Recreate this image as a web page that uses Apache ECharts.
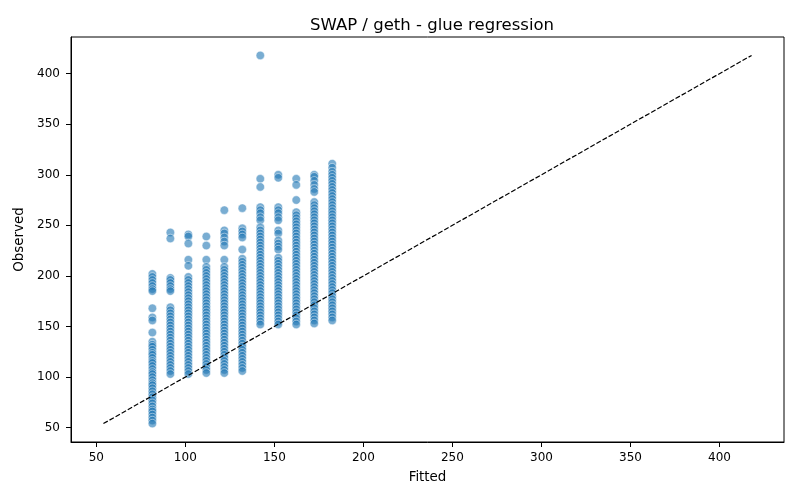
<!DOCTYPE html>
<html>
<head>
<meta charset="utf-8">
<script src="https://cdn.jsdelivr.net/npm/echarts@6/dist/echarts.min.js"></script>
<style>
html,body{margin:0;padding:0;background:#fff;}
#chart{width:800px;height:500px;}
</style>
</head>
<body>
<div id="chart"></div>
<script>
// Fitted value of each column (x) and observed values (y) per column
const fittedValues = [81.5, 91.6, 101.7, 111.8, 121.9, 132.0, 142.1, 152.2, 162.3, 172.4, 182.5];
const obs81  = [202,199,196,193,190,187,185,168,159,156,144,135,132,130,127,124,122,119,116,114,111,108,105,103,100,97,94,92,89,86,83,80,77,74,71,68,66,63,60,57,54];
const obs92  = [243,237,198,196,193,190,187,185,169,166,163,160,157,154,151,148,145,142,139,136,133,130,127,124,121,118,115,112,109,106,103];
const obs102 = [241,239,232,216,210,199,196,193,190,187,184,181,178,175,172,169,166,163,160,157,154,151,148,145,142,139,136,133,130,127,124,121,118,115,112,109,106,103];
const obs112 = [239,230,216,209,206,203,200,197,194,191,188,185,182,179,176,173,170,167,164,161,158,155,152,149,146,143,140,137,134,131,128,125,122,119,116,113,110,107,104];
const obs122 = [265,245,242,238,234,230,216,209,206,203,200,197,194,191,188,185,182,179,176,173,170,167,164,161,158,155,152,149,146,143,140,137,134,131,128,125,122,119,116,113,110,107,104];
const obs132 = [267,247,244,241,238,226,217,214,211,208,205,202,199,196,193,190,187,184,181,178,175,172,169,166,163,160,157,154,151,148,145,142,139,136,133,130,127,124,121,118,115,112,109,106];
const obs142 = [418,296,288,268,265,262,258,255,248,245,242,239,236,233,230,227,224,221,218,215,212,209,206,203,200,197,194,191,188,185,182,179,176,173,170,167,164,161,158,155,152];
const obs152 = [300,297,268,265,262,258,255,245,242,235,232,229,226,218,215,212,209,206,203,200,197,194,191,188,185,182,179,176,173,170,167,164,161,158,155,152];
const obs162 = [296,290,275,263,260,257,254,251,248,245,242,239,236,233,230,227,224,221,218,215,212,209,206,203,200,197,194,191,188,185,182,179,176,173,170,167,164,161,158,155,152];
const obs172 = [300,298,294,290,286,283,273,270,267,264,261,258,255,252,249,246,243,240,237,234,231,228,225,222,219,216,213,210,207,204,201,198,195,192,189,186,183,180,177,174,171,168,165,162,159,156,153];
const obs182 = [311,307,303,300,297,294,291,288,285,282,279,276,273,270,267,264,261,258,255,252,249,246,243,240,237,234,231,228,225,222,219,216,213,210,207,204,201,198,195,192,189,186,183,180,177,174,171,168,165,162,159,156];
const observedColumns = [obs81, obs92, obs102, obs112, obs122, obs132, obs142, obs152, obs162, obs172, obs182];
// identity reference line endpoints
const identityLine = [54, 418];
const tickValues = [50, 100, 150, 200, 250, 300, 350, 400];

const scatterData = [];
fittedValues.forEach((fx, i) => {
  observedColumns[i].forEach(v => scatterData.push([fx, v]));
});

const font = 'DejaVu Sans';
const chart = echarts.init(document.getElementById('chart'));
chart.setOption({
  animation: false,
  backgroundColor: '#ffffff',
  title: {
    text: 'SWAP / geth - glue regression',
    left: 305,
    top: 12,
    textStyle: {fontFamily: font, fontSize: 16.5, fontWeight: 'normal', color: '#000'}
  },
  grid: {left: 71, right: 16, top: 37, bottom: 58, show: true, borderColor: '#000', borderWidth: 1, backgroundColor: 'transparent'},
  xAxis: {
    type: 'value',
    min: 35.8, max: 436.2,
    name: 'Fitted', nameLocation: 'middle', nameGap: 29,
    nameTextStyle: {fontFamily: font, fontSize: 13.4, color: '#000'},
    axisLine: {show: true, onZero: false, lineStyle: {color: '#000', width: 1}},
    axisTick: {show: true, length: 5, lineStyle: {color: '#000'}, customValues: tickValues},
    axisLabel: {fontFamily: font, fontSize: 12, color: '#000', margin: 10, customValues: tickValues},
    splitLine: {show: false}
  },
  yAxis: {
    type: 'value',
    min: 35.8, max: 436.2,
    name: 'Observed', nameLocation: 'middle', nameGap: 42,
    nameTextStyle: {fontFamily: font, fontSize: 13.4, color: '#000'},
    axisLine: {show: true, onZero: false, lineStyle: {color: '#000', width: 1}},
    axisTick: {show: true, length: 5, lineStyle: {color: '#000'}, customValues: tickValues},
    axisLabel: {fontFamily: font, fontSize: 12, color: '#000', margin: 11, customValues: tickValues},
    splitLine: {show: false}
  },
  series: [
    {
      type: 'scatter',
      data: scatterData,
      symbolSize: 8.5,
      itemStyle: {color: 'rgba(31,119,180,0.75)', borderColor: '#ffffff', borderWidth: 0.6}
    },
    {
      type: 'line',
      data: [[identityLine[0], identityLine[0]], [identityLine[1], identityLine[1]]],
      symbol: 'none',
      lineStyle: {color: '#000', width: 1.2, type: [5, 2]},
      z: 3
    }
  ]
});
</script>
</body>
</html>
